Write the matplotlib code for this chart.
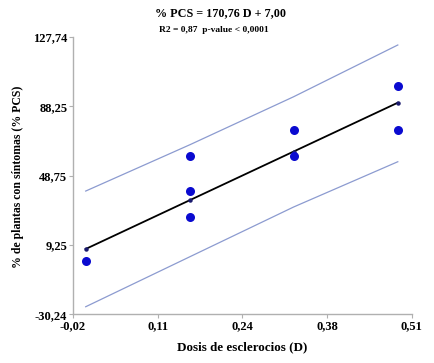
import numpy as np
import matplotlib
matplotlib.use("Agg")
import matplotlib.pyplot as plt

plt.rcParams["font.family"] = ["Liberation Serif", "DejaVu Serif"]
plt.rcParams["font.weight"] = "bold"

# observed data (dose of sclerotia vs % plants with symptoms)
dose_obs = [0.0, 0.163, 0.163, 0.163, 0.325, 0.325, 0.488, 0.488]
pcs_obs = [0.0, 60.0, 40.0, 25.0, 75.0, 60.0, 100.0, 75.0]

# fitted line and prediction bands at each dose level
dose_lvl = [0.0, 0.163, 0.325, 0.488]
slope = 170.76
intercept = 7.00
band_upper = [40.0, 66.4, 93.7, 123.2]
band_lower = [-25.9, 2.6, 30.9, 56.7]

x_ticklabels = ["-0,02", "0,11", "0,24", "0,38", "0,51"]
y_ticklabels = ["-30,24", "9,25", "48,75", "88,25", "127,74"]
XMIN, XMAX = -0.02, 0.51
YMIN, YMAX = -30.24, 127.74

fig = plt.figure(figsize=(4.34, 3.63), dpi=100)
ax = fig.add_axes([0.168, 0.134, 0.781, 0.764])

fitted = [intercept + slope * d for d in dose_lvl]
band_col = "#8c9bd0"
ax.plot(dose_lvl, band_upper, color=band_col, linewidth=0.9)
ax.plot(dose_lvl, band_lower, color=band_col, linewidth=0.9)
ax.plot(dose_lvl, fitted, color="black", linewidth=1.3, zorder=3)
ax.plot(dose_lvl, fitted, "o", color="#1a1a6e", markersize=2.2, zorder=4)
ax.plot(dose_obs, pcs_obs, "o", color="#0a0ad0", markersize=6.5,
        markeredgewidth=0, zorder=5)

ax.set_xlim(XMIN, XMAX)
ax.set_ylim(YMIN, YMAX)
ax.set_xticks(np.linspace(XMIN, XMAX, 5))
ax.set_xticklabels(x_ticklabels)
ax.set_yticks(np.linspace(YMIN, YMAX, 5))
ax.set_yticklabels(y_ticklabels)

for side in ("top", "right"):
    ax.spines[side].set_visible(False)
for side in ("left", "bottom"):
    ax.spines[side].set_color("#b0b0b0")
    ax.spines[side].set_linewidth(1.0)
ax.tick_params(axis="both", length=3, width=0.8, color="#b0b0b0",
               labelsize=9, pad=1)
for lab in ax.get_xticklabels() + ax.get_yticklabels():
    lab.set_fontweight("bold")

ax.set_xlabel("Dosis de esclerocios (D)", fontsize=9.4, fontweight="bold")
ax.set_ylabel("% de plantas con síntomas (% PCS)", fontsize=8.5,
              fontweight="bold")
ax.xaxis.set_label_coords(0.5, -0.098)
ax.yaxis.set_label_coords(-0.143, 0.497)

fig.text(0.507, 0.965, "% PCS = 170,76 D + 7,00", ha="center", va="center",
         fontsize=8.7, fontweight="bold")
fig.text(0.492, 0.918, "R2 = 0,87  p-value < 0,0001", ha="center",
         va="center", fontsize=6.8, fontweight="bold")

plt.savefig("out.png", dpi=100)
plt.close()
